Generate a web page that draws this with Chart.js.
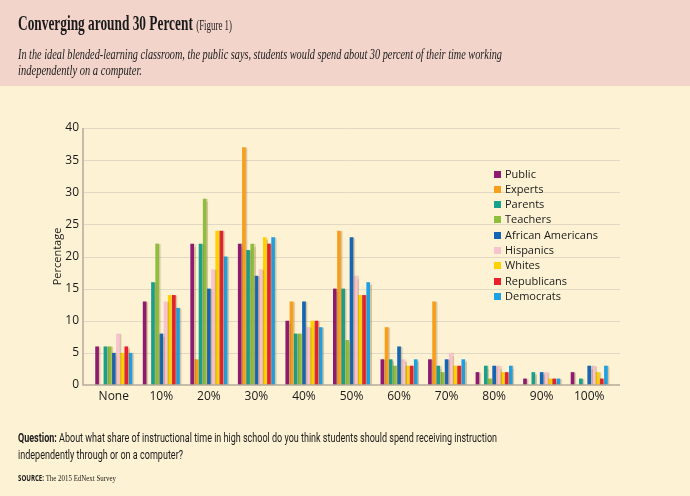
<!DOCTYPE html>
<html><head><meta charset="utf-8">
<script src="https://cdn.jsdelivr.net/npm/chart.js@4/dist/chart.umd.min.js"></script>
<style>
html,body{margin:0;padding:0;}
body{width:690px;height:496px;position:relative;overflow:hidden;background:#fef2d4;}
#hdr{position:absolute;left:0;top:0;width:690px;height:86px;background:#f2d4cb;}
.t{position:absolute;white-space:nowrap;transform-origin:0 0;color:#1a1a1a;}
#title{left:18px;top:13px;font:bold 21px/20px "Liberation Serif",serif;}
#title span{font-weight:normal;font-size:14px;}
.sub{left:18px;font:italic 14.5px/16px "Liberation Serif",serif;}
.q{left:18px;font:13px/16px Roboto,sans-serif;color:#1a1a1a;}
.q b{font-weight:bold;}
#src{left:18px;top:472px;font:9px/10px "Liberation Serif",serif;}
#src b{font:bold 8px "Open Sans",sans-serif;}
.lg{position:absolute;font:500 11px/14px "Open Sans",sans-serif;color:#1a1a1a;white-space:nowrap;}
.sw{position:absolute;width:7px;height:7px;}
canvas{position:absolute;left:0;top:0;}
</style></head>
<body>
<div id="hdr"></div>
<canvas id="c" width="690" height="496"></canvas>
<div class="t" id="title" data-w="214">Converging around 30 Percent <span>(Figure 1)</span></div>
<div class="t sub" style="top:46px" data-w="484">In the ideal blended-learning classroom, the public says, students would spend about 30 percent of their time working</div>
<div class="t sub" style="top:62px" data-w="124">independently on a computer.</div>
<div class="t q" style="top:430px" data-w="479"><b>Question:</b> About what share of instructional time in high school do you think students should spend receiving instruction</div>
<div class="t q" style="top:447px" data-w="165">independently through or on a computer?</div>
<div class="t" id="src" data-w="98"><b>SOURCE:</b> The 2015 EdNext Survey</div>
<div id="legend"></div>
<script>
const categories = ['None','10%','20%','30%','40%','50%','60%','70%','80%','90%','100%'];
const seriesNames = ['Public','Experts','Parents','Teachers','African Americans','Hispanics','Whites','Republicans','Democrats'];
const seriesColors = ['#8e1b6f','#f79f1d','#17a08a','#8dbf3c','#1466b5','#f7c3cf','#ffd100','#e9202c','#1da1e4'];
const publicVals      = [6,13,22,22,10,15,4,4,2,1,2];
const expertsVals     = [0,0,4,37,13,24,9,13,0,0,0];
const parentsVals     = [6,16,22,21,8,15,4,3,3,2,1];
const teachersVals    = [6,22,29,22,8,7,3,2,1,0,0];
const africanAmVals   = [5,8,15,17,13,23,6,4,3,2,3];
const hispanicsVals   = [8,13,18,18,9,17,4,5,3,2,3];
const whitesVals      = [5,14,24,23,10,14,3,3,2,1,2];
const republicansVals = [6,14,24,22,10,14,3,3,2,1,1];
const democratsVals   = [5,12,20,23,9,16,4,4,3,1,3];
const yMin = 0, yMax = 40, yStep = 5;
const yTitle = 'Percentage';

const seriesValues = [publicVals,expertsVals,parentsVals,teachersVals,africanAmVals,hispanicsVals,whitesVals,republicansVals,democratsVals];

document.querySelectorAll('[data-w]').forEach(el=>{
  const w = el.getBoundingClientRect().width;
  el.style.transform = 'scaleX(' + (parseFloat(el.dataset.w)/w) + ')';
});

const lg = document.getElementById('legend');
seriesNames.forEach((n,i)=>{
  const cy = 174 + i*15.3;
  const s = document.createElement('div'); s.className='sw';
  s.style.left='494px'; s.style.top=(cy-3.5)+'px'; s.style.background=seriesColors[i];
  lg.appendChild(s);
  const t = document.createElement('div'); t.className='lg';
  t.style.left='505px'; t.style.top=(cy-7.5)+'px'; t.textContent=n;
  lg.appendChild(t);
});

const frame = {
  id:'frame',
  beforeDatasetsDraw(chart){
    const {ctx, chartArea:a, scales:{y}} = chart;
    ctx.save();
    ctx.strokeStyle = '#e2d9c5'; ctx.lineWidth = 1;
    y.ticks.forEach(t=>{
      if (t.value === yMin) return;
      const py = Math.round(y.getPixelForValue(t.value)) + 0.5;
      ctx.beginPath(); ctx.moveTo(a.left-7, py); ctx.lineTo(a.right+7, py); ctx.stroke();
    });
    ctx.restore();
    ctx.save();
    ctx.shadowColor = 'rgba(140,105,50,0.35)';
    ctx.shadowOffsetX = 1.5; ctx.shadowOffsetY = 0.5; ctx.shadowBlur = 1;
  },
  afterDatasetsDraw(chart){
    const {ctx, chartArea:a, scales:{y}} = chart;
    ctx.restore();
    ctx.save();
    ctx.strokeStyle = '#b4ab99'; ctx.lineWidth = 1.5;
    const y0 = y.getPixelForValue(yMin);
    ctx.beginPath();
    ctx.moveTo(a.left-7, y.getPixelForValue(yMax));
    ctx.lineTo(a.left-7, y0);
    ctx.lineTo(a.right+7, y0);
    ctx.stroke();
    ctx.restore();
  }
};

new Chart(document.getElementById('c'), {
  type:'bar',
  data:{
    labels: categories,
    datasets: seriesNames.map((n,i)=>({
      label:n, data:seriesValues[i], backgroundColor:seriesColors[i], borderWidth:0,
      categoryPercentage:0.79, barPercentage:0.88
    }))
  },
  options:{
    responsive:false, animation:false,
    layout:{padding:{left:47,right:77,top:128,bottom:91}},
    plugins:{legend:{display:false}, tooltip:{enabled:false}},
    scales:{
      x:{
        grid:{display:false, drawTicks:false}, border:{display:false},
        ticks:{color:'#1a1a1a', font:{family:'"Open Sans", sans-serif', size:12, weight:'500'}, padding:4, maxRotation:0, autoSkip:false},
        afterFit(s){ s.height = 20; }
      },
      y:{
        min:yMin, max:yMax,
        grid:{display:false, drawTicks:false}, border:{display:false},
        ticks:{stepSize:yStep, color:'#1a1a1a', font:{family:'"Open Sans", sans-serif', size:12, weight:'500'}, padding:11},
        title:{display:true, text:yTitle, color:'#1a1a1a', font:{family:'"Open Sans", sans-serif', size:11, weight:'500'}, padding:{top:4,bottom:0}},
        afterFit(s){ s.width = 43; }
      }
    }
  },
  plugins:[frame]
});
</script>
</body></html>
